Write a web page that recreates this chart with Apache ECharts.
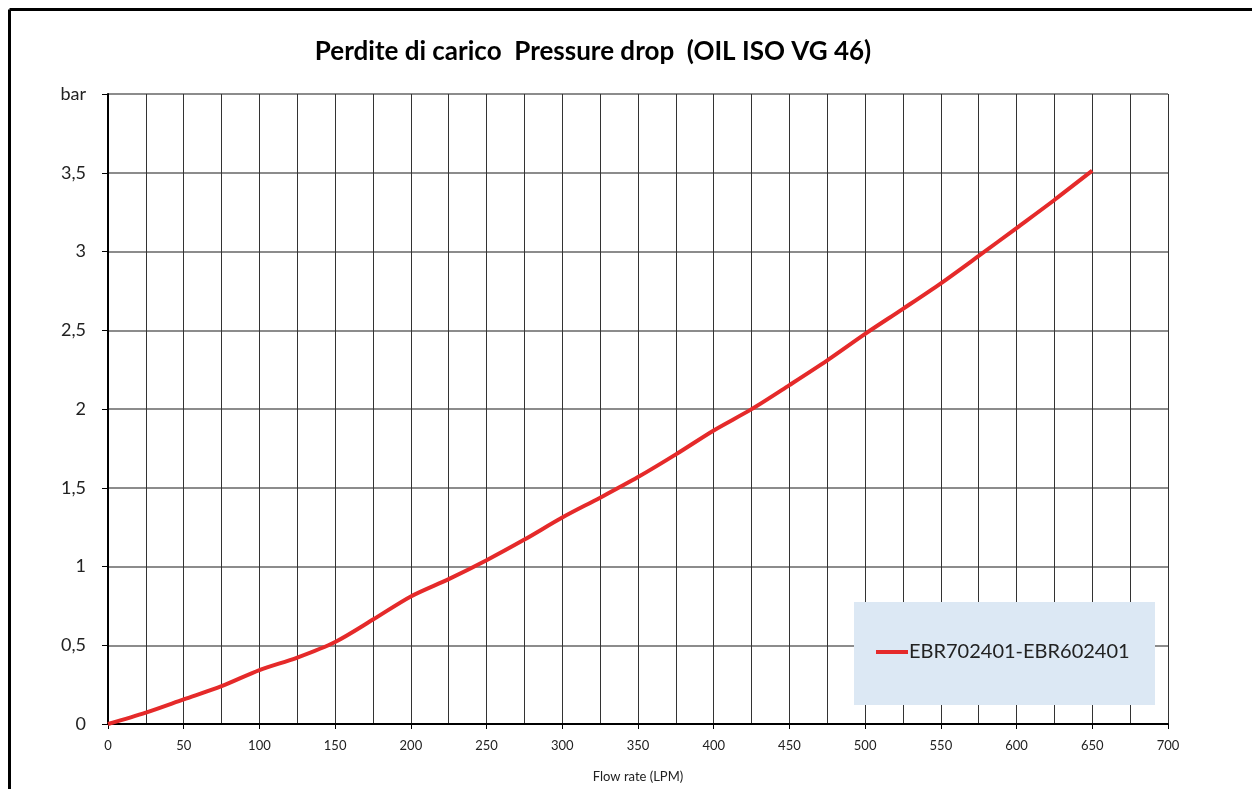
<!DOCTYPE html>
<html>
<head>
<meta charset="utf-8">
<script src="https://cdn.jsdelivr.net/npm/echarts@6/dist/echarts.min.js"></script>
<style>html,body{margin:0;padding:0;background:#fff;overflow:hidden;}#c{width:1252px;height:789px;}</style>
</head>
<body>
<div id="c"></div>
<script>
const titleText = 'Perdite di carico  Pressure drop  (OIL ISO VG 46)';
const seriesName = 'EBR702401-EBR602401';
const xName = 'Flow rate (LPM)';
const yUnit = 'bar';
const flowRate = [0,25,50,75,100,125,150,175,200,225,250,275,300,325,350,375,400,425,450,475,500,525,550,575,600,625,650];
const pressureDrop = [0,0.072,0.156,0.24,0.342,0.422,0.521,0.663,0.81,0.92,1.04,1.171,1.311,1.437,1.568,1.712,1.864,1.999,2.152,2.309,2.477,2.636,2.798,2.972,3.149,3.327,3.513];

const chart = echarts.init(document.getElementById('c'));
const font = 'Lato, "Open Sans", sans-serif';
chart.setOption({
  animation: false,
  backgroundColor: '#fff',
  title: {
    text: titleText, left: 588, top: 34, textAlign: 'center',
    textStyle: {fontFamily: font, fontWeight: 'bold', fontSize: 26, color: '#000'}
  },
  graphic: [
    {type: 'line', z: 0, shape: {x1: 9.5, y1: 9.5, x2: 1252, y2: 9.5}, style: {stroke: '#000', lineWidth: 3}},
    {type: 'line', z: 0, shape: {x1: 9.5, y1: 9.5, x2: 9.5, y2: 789}, style: {stroke: '#000', lineWidth: 3}},
    {type: 'rect', z: 1, shape: {x: 854, y: 602, width: 301, height: 103}, style: {fill: '#dce8f4'}}
  ],
  legend: {
    left: 876, top: 642, padding: 0, itemWidth: 32, itemHeight: 4, z: 10,
    icon: 'rect',
    textStyle: {fontFamily: font, fontSize: 20, color: '#222', padding: [0,0,0,-4]},
    data: [{name: seriesName, itemStyle: {color: '#e52a2a'}}]
  },
  grid: {left: 108, right: 84, top: 94, bottom: 65},
  xAxis: {
    type: 'value', min: 0, max: 700, interval: 50,
    name: xName, nameLocation: 'middle', nameGap: 46,
    nameTextStyle: {fontFamily: font, fontSize: 13, color: '#222'},
    axisLine: {show: true, lineStyle: {color: '#000', width: 2}},
    axisTick: {show: true, length: 5, lineStyle: {color: '#000'}},
    axisLabel: {fontFamily: font, fontSize: 13, color: '#222', margin: 15},
    splitLine: {show: true, lineStyle: {color: '#333', width: 1}},
    minorTick: {show: false, splitNumber: 2},
    minorSplitLine: {show: true, lineStyle: {color: '#333', width: 1}}
  },
  yAxis: {
    type: 'value', min: 0, max: 4, interval: 0.5,
    axisLine: {show: true, lineStyle: {color: '#000', width: 2}},
    axisTick: {show: true, length: 6, lineStyle: {color: '#000'}},
    axisLabel: {fontFamily: font, fontSize: 18, color: '#222', margin: 22,
      formatter: v => v === 4 ? yUnit : String(v).replace('.', ',')},
    splitLine: {show: true, lineStyle: {color: '#666', width: 1.5}}
  },
  series: [{
    name: seriesName, type: 'line', data: flowRate.map((x, i) => [x, pressureDrop[i]]),
    smooth: 0.3, showSymbol: false, lineStyle: {color: '#e52a2a', width: 4}, itemStyle: {color: '#e52a2a'}, z: 5
  }]
});
</script>
</body>
</html>
